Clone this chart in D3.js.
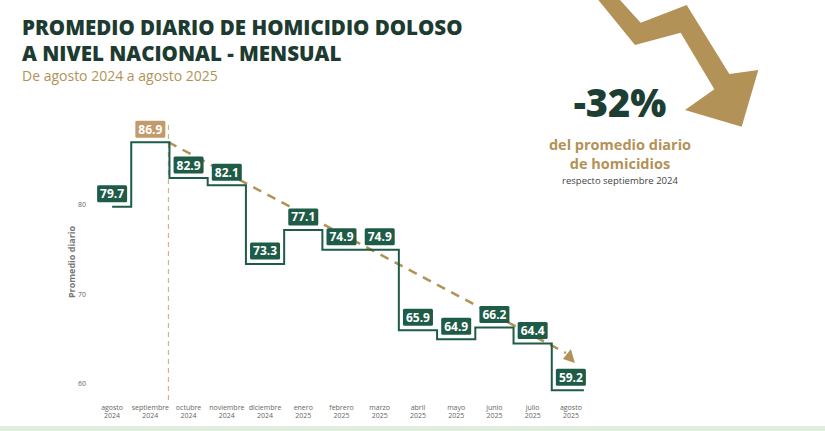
<!DOCTYPE html><html><head><meta charset="utf-8"><script src="https://cdn.jsdelivr.net/npm/d3@7"></script>
<style>body{margin:0;background:#fff}svg{font-family:"Open Sans",sans-serif}</style></head><body><svg width="825" height="431"></svg>
<script>
const months=["agosto","septiembre","octubre","noviembre","diciembre","enero","febrero","marzo","abril","mayo","junio","julio","agosto"];
const years=["2024","2024","2024","2024","2024","2025","2025","2025","2025","2025","2025","2025","2025"];
const values=[79.7,86.9,82.9,82.1,73.3,77.1,74.9,74.9,65.9,64.9,66.2,64.4,59.2];
const yTicks=[60,70,80];
const G="#1f5c47",T="#b39257";
const svg=d3.select("svg");
const x=d3.scaleBand().domain(d3.range(13)).range([93,590]).padding(0);
const y=d3.scaleLinear().domain([60,80]).range([383,204]);
const cx=i=>x(i)+x.bandwidth()/2;
svg.append("text").attr("x",22).attr("y",35).attr("font-size",20.5).attr("font-weight",800).attr("fill","#1d3b30").text("PROMEDIO DIARIO DE HOMICIDIO DOLOSO");
svg.append("text").attr("x",22).attr("y",61).attr("font-size",20.5).attr("font-weight",800).attr("fill","#1d3b30").text("A NIVEL NACIONAL - MENSUAL");
svg.append("text").attr("x",22).attr("y",81).attr("font-size",14).attr("fill",T).text("De agosto 2024 a agosto 2025");
const ap=[[235,0],[300,0],[362,68],[500,15],[628,222],[715,210],[665,380],[495,330],[583,268],[482,98],[345,135]].map(p=>[p[0]/3+520,p[1]/3]);
svg.append("path").attr("d",d3.line()(ap)+"Z").attr("fill",T);
svg.append("text").attr("x",620).attr("y",117).attr("text-anchor","middle").attr("font-size",38).attr("font-weight",800).attr("fill","#1d3f33").text("-32%");
svg.append("text").attr("x",620).attr("y",150).attr("text-anchor","middle").attr("font-size",14.5).attr("font-weight",700).attr("fill",T).text("del promedio diario");
svg.append("text").attr("x",620).attr("y",169).attr("text-anchor","middle").attr("font-size",14.5).attr("font-weight",700).attr("fill",T).text("de homicidios");
svg.append("text").attr("x",620).attr("y",184).attr("text-anchor","middle").attr("font-size",9.5).attr("fill","#444").text("respecto septiembre 2024");
svg.selectAll(".yt").data(yTicks).join("text").attr("x",86).attr("y",d=>y(d)+3).attr("text-anchor","end").attr("font-size",7).attr("fill","#666").text(d=>d);
svg.append("text").attr("transform","translate(75,262) rotate(-90)").attr("text-anchor","middle").attr("font-size",9).attr("font-weight",700).attr("fill","#777").text("Promedio diario");
const xl=svg.selectAll(".xl").data(months).join("text").attr("text-anchor","middle").attr("font-size",7).attr("fill","#666");
xl.append("tspan").attr("x",(d,i)=>cx(i)).attr("y",410).text(d=>d);
xl.append("tspan").attr("x",(d,i)=>cx(i)).attr("y",418).text((d,i)=>years[i]);
svg.append("line").attr("x1",x(2)-1).attr("x2",x(2)-1).attr("y1",125).attr("y2",403).attr("stroke","#c8b594").attr("stroke-width",1.2).attr("stroke-dasharray","5,4");
const tx1=x(2)-1,ty1=y(86.9),tx2=cx(12),ty2=357;
svg.append("line").attr("x1",tx1).attr("y1",ty1).attr("x2",tx2-5).attr("y2",ty2-4).attr("stroke",T).attr("stroke-width",2.5).attr("stroke-dasharray","9,7");
svg.append("path").attr("d",`M${tx2+4},${ty2+6}L${tx2-8},${ty2+2}L${tx2},${ty2-8}Z`).attr("fill",T);
const pts=[];
values.forEach((v,i)=>{const a=i==0?cx(0):x(i);const b=i==12?cx(12)+13:x(i)+x.bandwidth();pts.push([a,y(v)],[b,y(v)]);});
svg.append("path").attr("d",d3.line()(pts)).attr("fill","none").attr("stroke",G).attr("stroke-width",2);
const lb=svg.selectAll(".lb").data(values).join("g").attr("transform",(d,i)=>`translate(${cx(i)},${y(d)-13})`);
lb.append("rect").attr("x",-15).attr("y",-8.5).attr("width",30).attr("height",17).attr("rx",1.5).attr("fill",(d,i)=>i==1?"#c29a6b":G);
lb.append("text").attr("text-anchor","middle").attr("y",4.5).attr("font-size",12).attr("font-weight",700).attr("fill","#fff").text(d=>d.toFixed(1));
svg.append("rect").attr("x",0).attr("y",426).attr("width",825).attr("height",5).attr("fill","#dfeedd");
</script></body></html>
